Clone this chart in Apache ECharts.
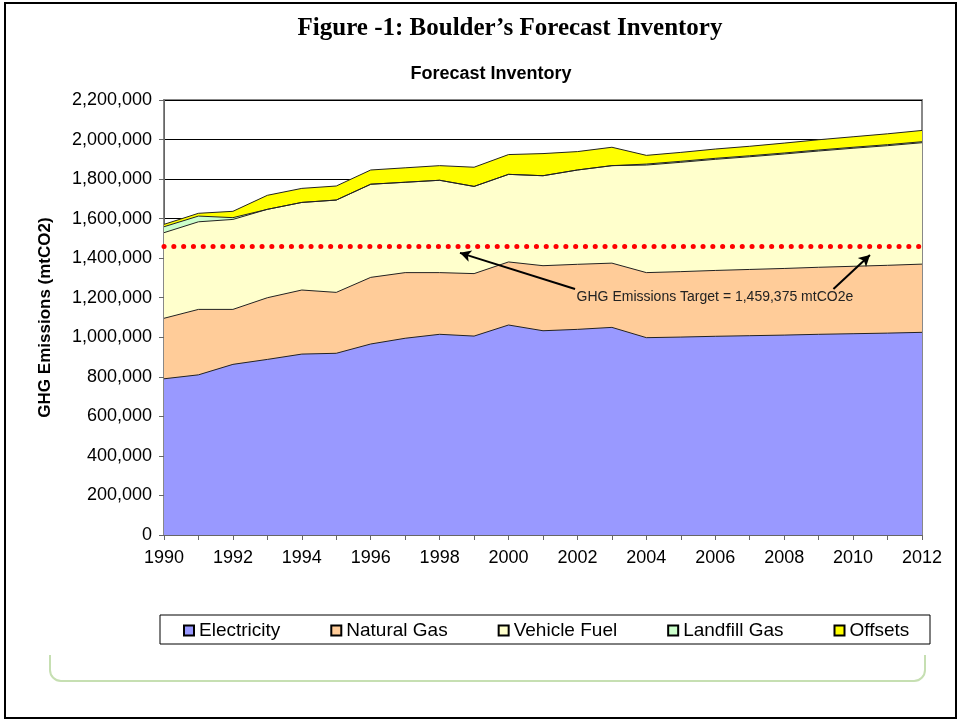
<!DOCTYPE html>
<html>
<head>
<meta charset="utf-8">
<script src="https://cdn.jsdelivr.net/npm/echarts@6/dist/echarts.min.js"></script>
<style>
  html, body { margin: 0; padding: 0; background: #fff; }
  #chart { width: 960px; height: 721px; }
</style>
</head>
<body>
<div id="chart"></div>
<script>
// years and emissions (mtCO2)
var years = [1990, 1991, 1992, 1993, 1994, 1995, 1996, 1997, 1998, 1999, 2000,
             2001, 2002, 2003, 2004, 2005, 2006, 2007, 2008, 2009, 2010, 2011, 2012];
var electricity = [790000, 810000, 863000, 888000, 915000, 919000, 966000, 995000, 1015000, 1006000, 1062000,
                   1033000, 1040000, 1050000, 998000, 1001000, 1005000, 1008000, 1011000, 1015000, 1018000, 1021000, 1025000];
var naturalGas = [306000, 331000, 278000, 312000, 324000, 308000, 337000, 332000, 312000, 316000, 319000,
                  329000, 329000, 325000, 329000, 331000, 333000, 335000, 337000, 339000, 341000, 343000, 345000];
var vehicleFuel = [433000, 443000, 455000, 447000, 443000, 467000, 471000, 457000, 467000, 441000, 443000,
                   455000, 477000, 493000, 544000, 553000, 562000, 570000, 579000, 588000, 597000, 605000, 614000];
var landfillGas = [30000, 29000, 9000, 0, 0, 0, 0, 0, 0, 0, 0,
                   0, 0, 0, 5000, 5000, 5000, 5000, 5000, 5000, 5000, 5000, 5000];
var offsets = [12000, 14000, 32000, 71000, 71000, 71000, 72000, 73000, 74000, 97000, 100000,
               112000, 93000, 93000, 44000, 45000, 47000, 48000, 50000, 52000, 53000, 55000, 57000];
var target = 1459375;
var yTicks = { min: 0, max: 2200000, step: 200000 };

var names = ["Electricity", "Natural Gas", "Vehicle Fuel", "Landfill Gas", "Offsets"];
var colors = ["#9999ff", "#ffcc99", "#ffffcc", "#ccffcc", "#ffff00"];
var layers = [electricity, naturalGas, vehicleFuel, landfillGas, offsets];

// running totals: each layer is drawn from 0 up to its cumulative top,
// the taller ones first so the lower ones paint over them
var running = years.map(function () { return 0; });
var tops = layers.map(function (vals) {
  running = running.map(function (s, i) { return s + vals[i]; });
  return years.map(function (y, i) { return [y, running[i]]; });
});

var font = "'Liberation Sans', Arial, sans-serif";
var myChart = echarts.init(document.getElementById("chart"));

function areaSeries(k) {
  return {
    name: names[k],
    type: "line",
    data: tops[k],
    showSymbol: false,
    symbol: "none",
    color: colors[k],
    lineStyle: { color: "#222", width: 1 },
    areaStyle: { color: colors[k], opacity: 1 },
    itemStyle: { color: colors[k], borderColor: "#000", borderWidth: 1 },
    emphasis: { disabled: true },
    z: 2
  };
}

var green = "#c6dfb2";

var series = [4, 3, 2, 1, 0].map(areaSeries);
series[0].markLine = {
  silent: true,
  animation: false,
  symbol: "none",
  label: { show: false },
  data: [
    { yAxis: target, lineStyle: { color: "#ff0000", width: 5, type: [0.1, 9.7], cap: "round" } },
    [
      { coord: [2001.93, 1244000], symbol: "none", lineStyle: { color: "#000", width: 2, type: "solid" } },
      { coord: [1998.59, 1427000], symbol: "arrow", symbolSize: [9, 11] }
    ],
    [
      { coord: [2009.43, 1244000], symbol: "none", lineStyle: { color: "#000", width: 2, type: "solid" } },
      { coord: [2010.49, 1416000], symbol: "arrow", symbolSize: [9, 11] }
    ]
  ]
};
series[0].markPoint = {
  silent: true,
  symbol: "circle",
  symbolSize: 0,
  label: {
    show: true,
    position: "inside",
    fontFamily: font,
    fontSize: 14,
    color: "#222",
    formatter: "GHG Emissions Target = 1,459,375 mtCO2e"
  },
  data: [{ coord: [2005.99, 1204000] }]
};

var option = {
  animation: false,
  backgroundColor: "#fff",
  legend: {
    data: names,
    left: 178,
    top: 616,
    itemGap: 50,
    icon: "rect",
    itemWidth: 10,
    itemHeight: 10,
    selectedMode: false,
    textStyle: { fontFamily: font, fontSize: 19, color: "#000" }
  },
  grid: { left: 164, right: 38, top: 100, bottom: 186, show: true, borderColor: "#888", borderWidth: 2 },
  xAxis: {
    type: "value",
    min: 1990,
    max: 2012,
    interval: 1,
    axisLine: { lineStyle: { color: "#666", width: 1 } },
    axisTick: { show: true, length: 5, lineStyle: { color: "#666" } },
    splitLine: { show: false },
    axisLabel: {
      margin: 14,
      fontFamily: font,
      fontSize: 18,
      color: "#000",
      formatter: function (v) { return v % 2 === 0 ? String(v) : ""; }
    }
  },
  yAxis: {
    type: "value",
    min: yTicks.min,
    max: yTicks.max,
    interval: yTicks.step,
    name: "GHG Emissions (mtCO2)",
    nameLocation: "middle",
    nameGap: 110,
    nameTextStyle: { fontFamily: font, fontSize: 17, fontWeight: "bold", color: "#000" },
    axisLine: { show: true, lineStyle: { color: "#666", width: 1 } },
    axisTick: { show: true, length: 5, lineStyle: { color: "#666" } },
    splitLine: { show: true, lineStyle: { color: "#000", width: 1 } },
    axisLabel: {
      margin: 12,
      fontFamily: font,
      fontSize: 18,
      color: "#000",
      formatter: function (v) { return v.toLocaleString("en-US"); }
    }
  },
  series: series,
  graphic: [
    { type: "rect", shape: { x: 5, y: 3, width: 951, height: 715 }, style: { fill: "none", stroke: "#000", lineWidth: 2 }, z: 100 },
    { type: "text", x: 510, y: 29, style: { text: "Figure -1: Boulder\u2019s Forecast Inventory", fill: "#000",
      font: "bold 25px 'Liberation Serif', 'Times New Roman', serif", textAlign: "center", textVerticalAlign: "middle" } },
    { type: "text", x: 491, y: 74, style: { text: "Forecast Inventory", fill: "#000",
      font: "bold 18px " + font, textAlign: "center", textVerticalAlign: "middle" } },
    { type: "rect", shape: { x: 160, y: 615, width: 770, height: 29 }, style: { fill: "none", stroke: "#000", lineWidth: 1 }, z: -1 },
    // the light green bracket under the legend
    { type: "polyline", shape: { points: [[50, 655], [50, 670]] }, style: { fill: null, stroke: green, lineWidth: 2 } },
    { type: "arc", shape: { cx: 61, cy: 670, r: 11, startAngle: Math.PI / 2, endAngle: Math.PI }, style: { fill: null, stroke: green, lineWidth: 2 } },
    { type: "polyline", shape: { points: [[61, 681], [914, 681]] }, style: { fill: null, stroke: green, lineWidth: 2 } },
    { type: "arc", shape: { cx: 914, cy: 670, r: 11, startAngle: 0, endAngle: Math.PI / 2 }, style: { fill: null, stroke: green, lineWidth: 2 } },
    { type: "polyline", shape: { points: [[925, 670], [925, 655]] }, style: { fill: null, stroke: green, lineWidth: 2 } }
  ]
};

myChart.setOption(option);
</script>
</body>
</html>
